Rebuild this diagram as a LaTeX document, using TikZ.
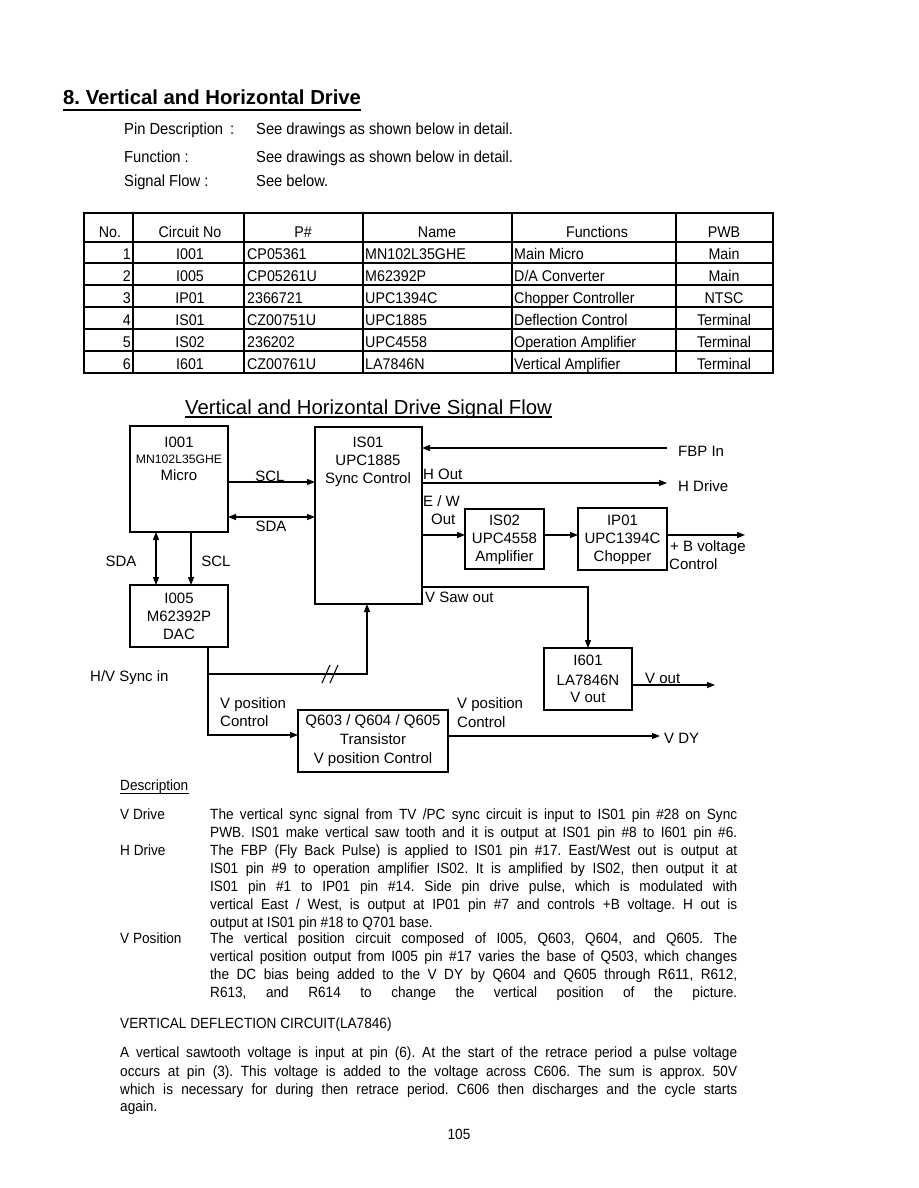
\documentclass[tikz,border=0pt]{standalone}
\usepackage{fontspec}
\setmainfont{Liberation Sans}
\newfontfamily\narrowf{Liberation Sans}[FakeStretch=0.92]
\usetikzlibrary{arrows.meta}
\newcommand\jline[1]{\makebox[527pt][s]{#1}}
\newcommand\jlineb[1]{\makebox[617pt][s]{#1}}
\begin{document}
\frenchspacing
\begin{tikzpicture}[x=1pt,y=-1pt,
  t/.style={inner sep=0pt, anchor=base},
  tl/.style={inner sep=0pt, anchor=base west},
  tr/.style={inner sep=0pt, anchor=base east},
  box/.style={draw, line width=1.3pt, inner sep=0pt, outer sep=0pt, anchor=north west},
  arr/.style={line width=1.2pt, -{Triangle[length=8pt,width=6pt]}},
  darr/.style={line width=1.2pt, {Triangle[length=8pt,width=6pt]}-{Triangle[length=8pt,width=6pt]}},
  grid/.style={line width=1.1pt},
  fhead/.style={font=\narrowf\fontsize{16}{18}\selectfont},
  ftab/.style={font=\narrowf\fontsize{15.5}{17}\selectfont},
  fdia/.style={font=\fontsize{15}{18}\selectfont},
  fsm/.style={font=\fontsize{12.2}{14}\selectfont},
  fdesc/.style={font=\narrowf\fontsize{14.8}{16}\selectfont}]
\fill[white] (0,0) rectangle (918,1188);
\useasboundingbox (0,0) rectangle (918,1188);

% ---- heading
\node[tl, font=\fontsize{20.3}{22}\selectfont\bfseries] (title) at (63,105) {8. Vertical and Horizontal Drive};
\draw[line width=1.7pt] ([yshift=-5pt]title.base west) -- ([yshift=-5pt]title.base east);
\node[tl,fhead] (pd1) at (124,135) {Pin Description\hspace{7pt}:};
\node[tl,fhead] (pd2) at (256,135) {See drawings as shown below in detail.};
\node[tl,fhead] (fn1) at (124,162) {Function :};
\node[tl,fhead] (fn2) at (256,162) {See drawings as shown below in detail.};
\node[tl,fhead] (sf1) at (124,186) {Signal Flow :};
\node[tl,fhead] (sf2) at (256,186) {See below.};

% ---- table
\draw[line width=1.4pt] (84,213) rectangle (773,373);
\foreach \x in {133,244,363,512,676} \draw[grid] (\x,213) -- (\x,373);
\foreach \y in {242,263,285,307,329,351} \draw[grid] (84,\y) -- (773,\y);
\node[t,ftab] (h1) at (110,237) {No.};
\node[t,ftab] (h2) at (190,237) {Circuit No};
\node[t,ftab] (h3) at (303,237) {P\#};
\node[t,ftab] (h4) at (437,237) {Name};
\node[t,ftab] (h5) at (597,237) {Functions};
\node[t,ftab] (h6) at (724,237) {PWB};
% row 1
\node[tr,ftab] (n1) at (131,259) {1};
\node[t,ftab] (c1) at (190,259) {I001};
\node[tl,ftab] (p1) at (247,259) {CP05361};
\node[tl,ftab] (m1) at (365,259) {MN102L35GHE};
\node[tl,ftab] (f1) at (514,259) {Main Micro};
\node[t,ftab] (w1) at (724,259) {Main};
% row 2
\node[tr,ftab] (n2) at (131,281) {2};
\node[t,ftab] (c2) at (190,281) {I005};
\node[tl,ftab] (p2) at (247,281) {CP05261U};
\node[tl,ftab] (m2) at (365,281) {M62392P};
\node[tl,ftab] (f2) at (514,281) {D/A Converter};
\node[t,ftab] (w2) at (724,281) {Main};
% row 3
\node[tr,ftab] (n3) at (131,303) {3};
\node[t,ftab] (c3) at (190,303) {IP01};
\node[tl,ftab] (p3) at (247,303) {2366721};
\node[tl,ftab] (m3) at (365,303) {UPC1394C};
\node[tl,ftab] (f3) at (514,303) {Chopper Controller};
\node[t,ftab] (w3) at (724,303) {NTSC};
% row 4
\node[tr,ftab] (n4) at (131,325) {4};
\node[t,ftab] (c4) at (190,325) {IS01};
\node[tl,ftab] (p4) at (247,325) {CZ00751U};
\node[tl,ftab] (m4) at (365,325) {UPC1885};
\node[tl,ftab] (f4) at (514,325) {Deflection Control};
\node[t,ftab] (w4) at (724,325) {Terminal};
% row 5
\node[tr,ftab] (n5) at (131,347) {5};
\node[t,ftab] (c5) at (190,347) {IS02};
\node[tl,ftab] (p5) at (247,347) {236202};
\node[tl,ftab] (m5) at (365,347) {UPC4558};
\node[tl,ftab] (f5) at (514,347) {Operation Amplifier};
\node[t,ftab] (w5) at (724,347) {Terminal};
% row 6
\node[tr,ftab] (n6) at (131,369) {6};
\node[t,ftab] (c6) at (190,369) {I601};
\node[tl,ftab] (p6) at (247,369) {CZ00761U};
\node[tl,ftab] (m6) at (365,369) {LA7846N};
\node[tl,ftab] (f6) at (514,369) {Vertical Amplifier};
\node[t,ftab] (w6) at (724,369) {Terminal};

% ---- diagram title
\node[tl, font=\fontsize{20.3}{22}\selectfont] (dtitle) at (185,414) {Vertical and Horizontal Drive Signal Flow};
\draw[line width=1.1pt] ([yshift=-3pt]dtitle.base west) -- ([yshift=-3pt]dtitle.base east);

% ---- boxes
\node[box, minimum width=98pt, minimum height=106pt] (i001) at (130,426) {};
\node[box, minimum width=107pt, minimum height=177pt] (is01) at (315,427) {};
\node[box, minimum width=98pt, minimum height=62pt] (i005) at (130,585) {};
\node[box, minimum width=79pt, minimum height=60pt] (is02) at (465,509) {};
\node[box, minimum width=89pt, minimum height=62pt] (ip01) at (578,508) {};
\node[box, minimum width=88pt, minimum height=62pt] (i601) at (544,648) {};
\node[box, minimum width=150pt, minimum height=62pt] (q) at (298,710) {};

% box texts
\node[t,fdia] (i001a) at (179,447.5) {I001};
\node[t,fsm]  (i001b) at (179,463.5) {MN102L35GHE};
\node[t,fdia] (i001c) at (179,480.5) {Micro};
\node[t,fdia] (is01a) at (368,447.5) {IS01};
\node[t,fdia] (is01b) at (368,465.5) {UPC1885};
\node[t,fdia] (is01c) at (368,483.5) {Sync Control};
\node[t,fdia] (i005a) at (179,603.5) {I005};
\node[t,fdia] (i005b) at (179,621.5) {M62392P};
\node[t,fdia] (i005c) at (179,639.5) {DAC};
\node[t,fdia] (is02a) at (504.5,525.5) {IS02};
\node[t,fdia] (is02b) at (504.5,543.5) {UPC4558};
\node[t,fdia] (is02c) at (504.5,561.5) {Amplifier};
\node[t,fdia] (ip01a) at (622.5,525.5) {IP01};
\node[t,fdia] (ip01b) at (622.5,543.5) {UPC1394C};
\node[t,fdia] (ip01c) at (622.5,561.5) {Chopper};
\node[t,fdia] (i601a) at (588,665.5) {I601};
\node[t,fdia] (i601b) at (588,685.5) {LA7846N};
\node[t,fdia] (i601c) at (588,702.5) {V out};
\node[t,fdia] (qa) at (373,725.5) {Q603 / Q604 / Q605};
\node[t,fdia] (qb) at (373,744.5) {Transistor};
\node[t,fdia] (qc) at (373,763.5) {V position Control};

% ---- connector helper coordinates
\coordinate (yscl) at (0,482);
\coordinate (ysda) at (0,517);
\coordinate (xsda) at (156,0);
\coordinate (xscl) at (191,0);
\coordinate (fbp) at (667,448);
\coordinate (hdrv) at (667,483);
\coordinate (yew) at (0,535);
\coordinate (bv) at (745,535);
\coordinate (ysaw) at (0,587);
\coordinate (vout) at (715,685);
\coordinate (vdy) at (660,736);
\coordinate (xl) at (208,0);
\coordinate (yq) at (0,735);
\coordinate (ysync) at (0,674);
\coordinate (xsync) at (367,0);

% ---- connectors
\draw[arr]  (i001.east |- yscl) -- (is01.west |- yscl);
\draw[darr] (i001.east |- ysda) -- (is01.west |- ysda);
\draw[darr] (i001.south -| xsda) -- (i005.north -| xsda);
\draw[arr]  (i001.south -| xscl) -- (i005.north -| xscl);
\draw[arr]  (fbp) -- (is01.east |- fbp);
\draw[arr]  (is01.east |- hdrv) -- (hdrv);
\draw[arr]  (is01.east |- yew) -- (is02.west |- yew);
\draw[arr]  (is02.east |- yew) -- (ip01.west |- yew);
\draw[arr]  (ip01.east |- bv) -- (bv);
\draw[arr]  (is01.east |- ysaw) -| (i601.north);
\draw[arr]  (i601.east |- vout) -- (vout);
\draw[arr]  (q.east |- vdy) -- (vdy);
\draw[arr]  (i005.south -| xl) -- (xl |- yq) -- (q.west |- yq);
\draw[arr]  (xl |- ysync) -| (is01.south -| xsync);
% double slash on the sync line
\draw[line width=1.1pt] (322,683) -- (330,665);
\draw[line width=1.1pt] (330,683) -- (338,665);

% ---- connector labels
\node[t,fdia] (lscl) at (270,481) {SCL};
\node[t,fdia] (lsda) at (271,531) {SDA};
\node[t,fdia] (lsda2) at (121,566.5) {SDA};
\node[t,fdia] (lscl2) at (216,566.5) {SCL};
\node[tl,fdia] (lfbp) at (678,456) {FBP In};
\node[tl,fdia] (lhout) at (423,479) {H Out};
\node[tl,fdia] (lhdrv) at (678,491) {H Drive};
\node[tl,fdia] (lew1) at (423,506) {E / W};
\node[tl,fdia] (lew2) at (431,524) {Out};
\node[tl,fdia] (lbv1) at (670,551) {+ B voltage};
\node[tl,fdia] (lbv2) at (669,569) {Control};
\node[tl,fdia] (lsaw) at (425,602) {V Saw out};
\node[tl,fdia] (lvout) at (645,683) {V out};
\node[tl,fdia] (lvp1) at (457,708) {V position};
\node[tl,fdia] (lvp2) at (457,727) {Control};
\node[tl,fdia] (lvdy) at (664,743) {V DY};
\node[tl,fdia] (lvpl1) at (220,708) {V position};
\node[tl,fdia] (lvpl2) at (220,726) {Control};
\node[tl,fdia] (lsync) at (90,681) {H/V Sync in};

% ---- description
\node[tl,fdesc] (desc) at (120,790) {Description};
\draw[line width=0.8pt] ([yshift=-3pt]desc.base west) -- ([yshift=-3pt]desc.base east);
\node[tl,fdesc] (lvd) at (120,819) {V Drive};
\node[tl,fdesc] (lhd) at (120,855) {H Drive};
\node[tl,fdesc] (lvpos) at (120,943) {V Position};
\node[tl,fdesc] (d1) at (210,819) {\jline{The vertical sync signal from TV /PC sync circuit is input to IS01 pin \#28 on Sync}};
\node[tl,fdesc] (d2) at (210,837) {\jline{PWB. IS01 make vertical saw tooth and it is output at IS01 pin \#8 to I601 pin \#6.}};
\node[tl,fdesc] (d3) at (210,855) {\jline{The FBP (Fly Back Pulse) is applied to IS01 pin \#17. East/West out is output at}};
\node[tl,fdesc] (d4) at (210,873) {\jline{IS01 pin \#9 to operation amplifier IS02. It is amplified by IS02, then output it at}};
\node[tl,fdesc] (d5) at (210,891) {\jline{IS01 pin \#1 to IP01 pin \#14. Side pin drive pulse, which is modulated with}};
\node[tl,fdesc] (d6) at (210,909) {\jline{vertical East / West, is output at IP01 pin \#7 and controls +B voltage. H out is}};
\node[tl,fdesc] (d7) at (210,927) {output at IS01 pin \#18 to Q701 base.};
\node[tl,fdesc] (d8) at (210,943) {\jline{The vertical position circuit composed of I005, Q603, Q604, and Q605. The}};
\node[tl,fdesc] (d9) at (210,961) {\jline{vertical position output from I005 pin \#17 varies the base of Q503, which changes}};
\node[tl,fdesc] (d10) at (210,979) {\jline{the DC bias being added to the V DY by Q604 and Q605 through R611, R612,}};
\node[tl,fdesc] (d11) at (210,997) {\jline{R613, and R614 to change the vertical position of the picture.}};

\node[tl,fdesc] (vdc) at (120,1028) {VERTICAL DEFLECTION CIRCUIT(LA7846)};
\node[tl,fdesc] (b1) at (120,1057) {\jlineb{A vertical sawtooth voltage is input at pin (6). At the start of the retrace period a pulse voltage}};
\node[tl,fdesc] (b2) at (120,1076) {\jlineb{occurs at pin (3). This voltage is added to the voltage across C606. The sum is approx. 50V}};
\node[tl,fdesc] (b3) at (120,1094) {\jlineb{which is necessary for during then retrace period. C606 then discharges and the cycle starts}};
\node[tl,fdesc] (b4) at (120,1111) {again.};
\node[t,fdesc] (pg) at (459,1139) {105};
\end{tikzpicture}
\end{document}
